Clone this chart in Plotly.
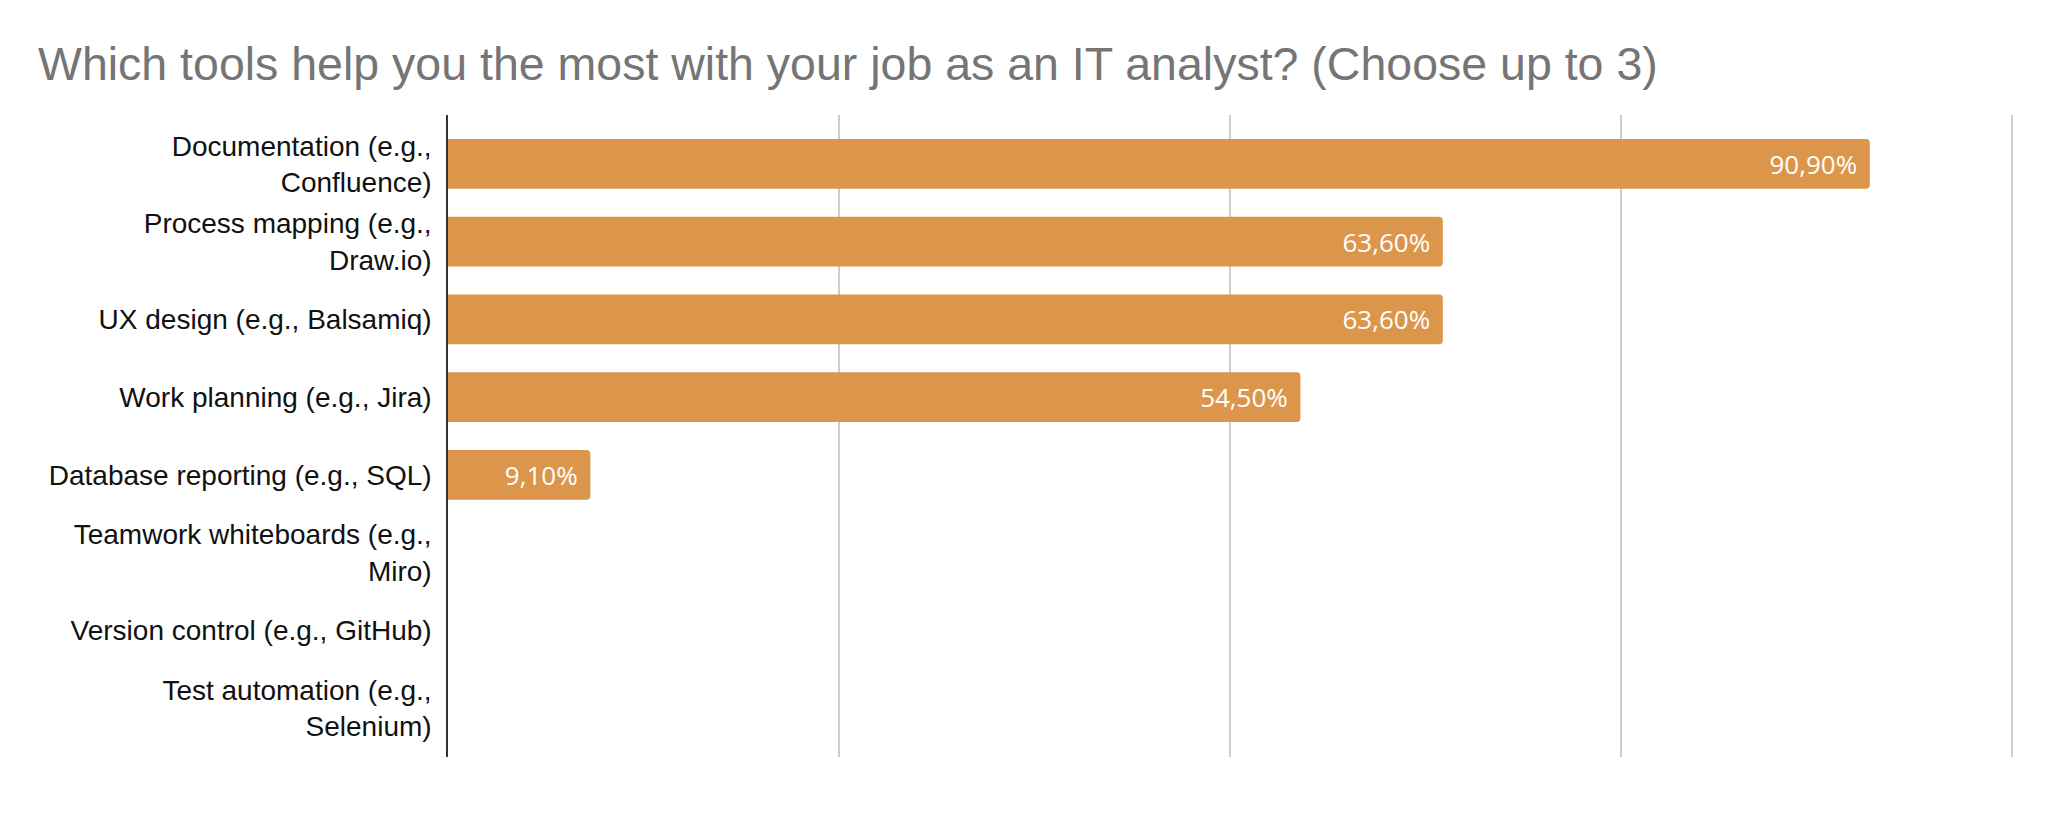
import plotly.graph_objects as go

categories = [
    "Documentation (e.g.,<br>Confluence)",
    "Process mapping (e.g.,<br>Draw.io)",
    "UX design (e.g., Balsamiq)",
    "Work planning (e.g., Jira)",
    "Database reporting (e.g., SQL)",
    "Teamwork whiteboards (e.g.,<br>Miro)",
    "Version control (e.g., GitHub)",
    "Test automation (e.g.,<br>Selenium)",
]
values = [90.9, 63.6, 63.6, 54.5, 9.1, 0, 0, 0]
grid_ticks = [0, 25, 50, 75, 100]

labels = [(f"{v:.2f}".replace(".", ",") + "%\u2004") if v > 0 else "" for v in values]

fig = go.Figure(go.Bar(
    x=values,
    y=categories,
    orientation="h",
    marker=dict(color="#DB964B", cornerradius=4, line=dict(width=0)),
    width=0.64,
    text=labels,
    textposition="inside",
    insidetextanchor="end",
    textfont=dict(family="Open Sans", size=26, color="white"),
    cliponaxis=False,
    hoverinfo="skip",
))

fig.update_layout(
    width=2048, height=826,
    paper_bgcolor="white", plot_bgcolor="white",
    margin=dict(l=440, r=36, t=107, b=77),
    title=dict(
        text="Which tools help you the most with your job as an IT analyst? (Choose up to 3)",
        x=30 / 2048, xanchor="left", xref="container",
        y=1 - 56 / 826, yanchor="middle",
        font=dict(family="Liberation Sans, Arial", size=46.5, color="#757575"),
    ),
    showlegend=False,
)
fig.update_xaxes(
    range=[0, 100.5], tickvals=grid_ticks, showticklabels=False,
    showgrid=True, gridcolor="#CCCCCC", gridwidth=1.5,
    zeroline=False, showline=False, fixedrange=True,
)
fig.update_yaxes(
    categoryorder="array", categoryarray=categories,
    range=[7.63, -0.63],
    showline=True, linecolor="#333333", linewidth=1.5,
    ticks="", ticklabelstandoff=9,
    tickfont=dict(family="Liberation Sans, Arial", size=28, color="#111111"),
    showgrid=False, fixedrange=True,
)

fig.write_html("out.html")
